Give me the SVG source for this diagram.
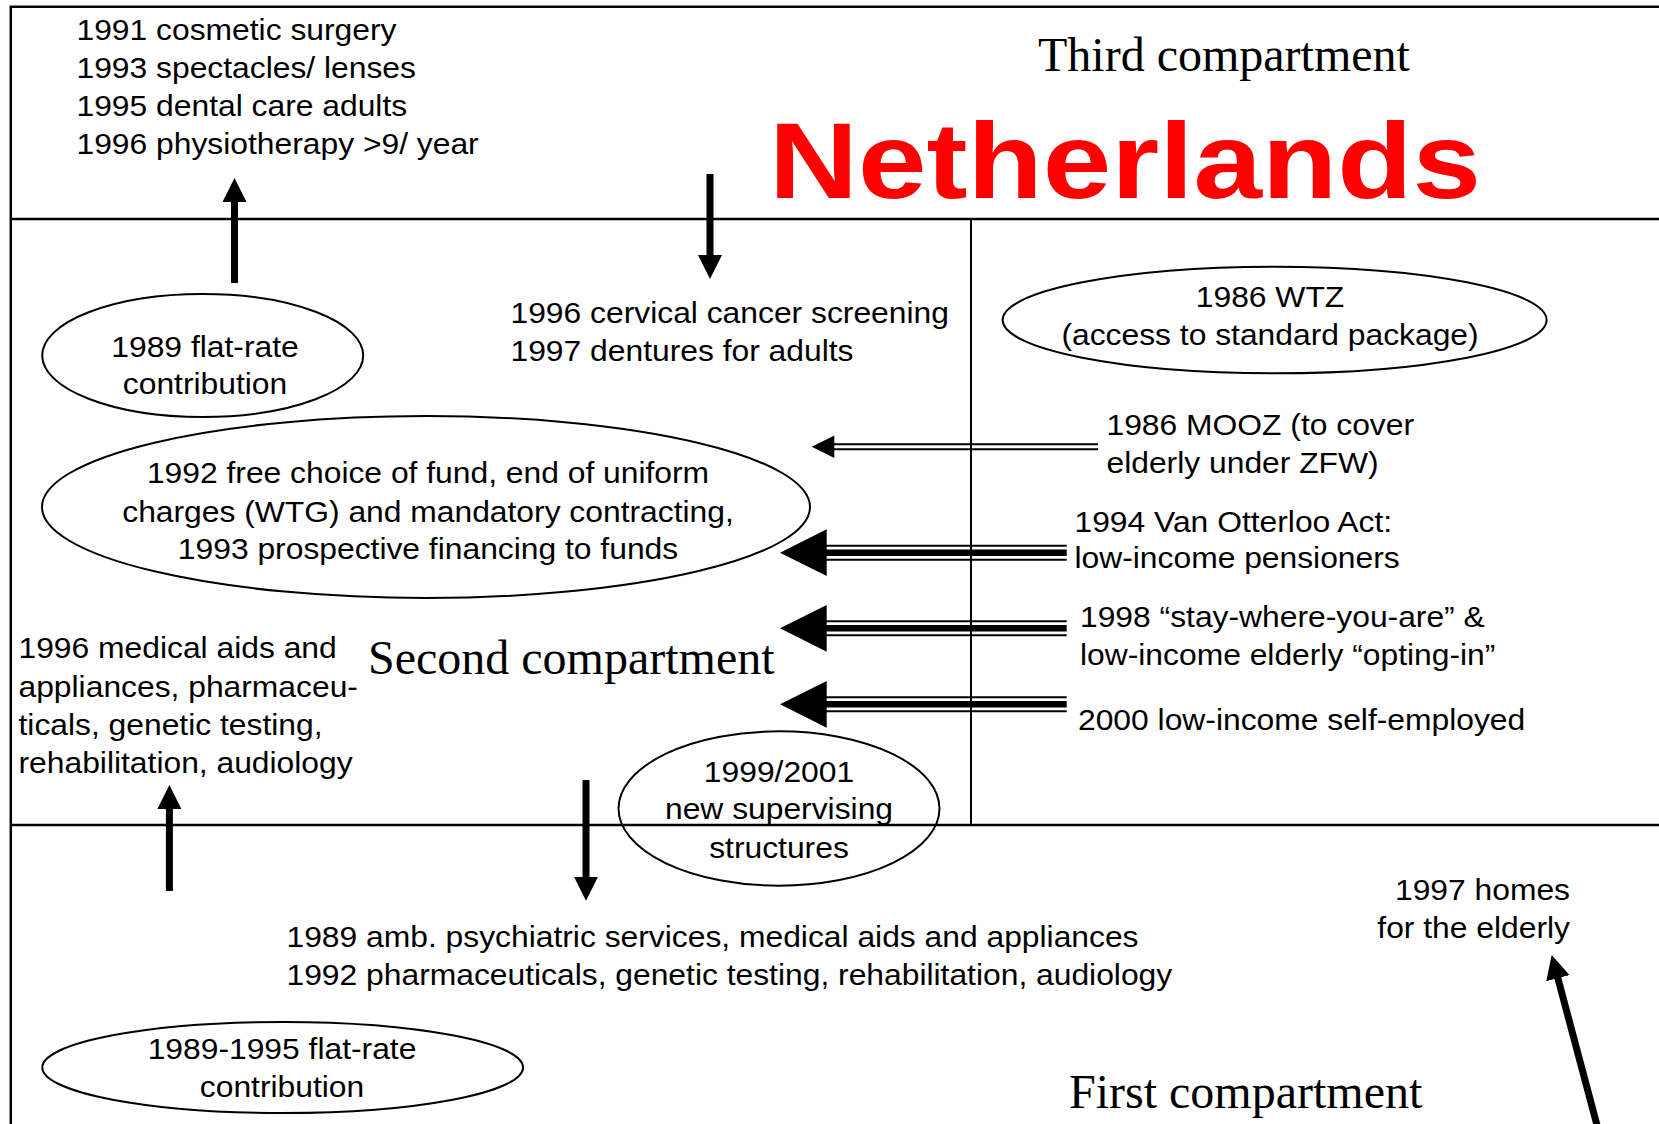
<svg xmlns="http://www.w3.org/2000/svg" xmlns:xlink="http://www.w3.org/1999/xlink" width="1659" height="1124" viewBox="0 0 1659 1124">
<style>
.s{font-family:"Liberation Sans",Arial,Helvetica,sans-serif;font-size:28.8px;fill:#000}
.c{text-anchor:middle}
.r{font-family:"Liberation Serif","Times New Roman",serif;font-size:48px;fill:#000}
.n{font-family:"Liberation Sans",Arial,Helvetica,sans-serif;font-weight:bold;font-size:108px;fill:#FF0000}
.e{fill:none;stroke:#000;stroke-width:2}
.fr{fill:none;stroke:#000;stroke-width:2.5}
.sh{fill:none;stroke:#000;stroke-width:7}
.th{fill:none;stroke:#000;stroke-width:2}
.tk{fill:none;stroke:#000;stroke-width:6.5}
</style>
<defs>
<marker id="ah" markerUnits="userSpaceOnUse" markerWidth="24" markerHeight="24" viewBox="0 0 24 24" refX="1" refY="12" orient="auto">
<path d="M0,0 L24,12 L0,24 Z" fill="#000"/>
</marker>
<path id="hl" d="M0,0 L46.7,-23.4 L46.7,23.4 Z" fill="#000"/>
<g id="tri">
<line class="th" x1="825" y1="-7" x2="1066.7" y2="-7"/>
<line class="tk" x1="825" y1="0" x2="1066.7" y2="0"/>
<line class="th" x1="825" y1="7" x2="1066.7" y2="7"/>
</g>
</defs>
<rect width="1659" height="1124" fill="#fff"/>

<g id="frame">
<path class="fr" d="M1670,6.7 H10.8 V1135"/>
<line class="fr" x1="10.8" y1="219" x2="1670" y2="219"/>
<line class="fr" x1="10.8" y1="825" x2="1670" y2="825"/>
<line class="th" x1="971" y1="219" x2="971" y2="825"/>
</g>

<g id="connectors">
<line class="sh" x1="234.5" y1="283" x2="234.5" y2="201" marker-end="url(#ah)"/>
<line class="sh" x1="710" y1="174" x2="710" y2="256" marker-end="url(#ah)"/>
<line class="sh" x1="169.4" y1="891" x2="169.4" y2="808" marker-end="url(#ah)"/>
<line class="sh" x1="586" y1="780" x2="586" y2="877.7" marker-end="url(#ah)"/>
<line class="sh" x1="1598.3" y1="1130" x2="1557.6" y2="977.2" marker-end="url(#ah)"/>
<g id="mooz-arrow">
<line class="th" x1="833" y1="444.3" x2="1098" y2="444.3"/>
<line class="th" x1="833" y1="449.3" x2="1098" y2="449.3"/>
<path d="M811.7,446.8 L834.3,435.5 L834.3,458.1 Z" fill="#000"/>
</g>
<g id="otterloo-arrow"><use xlink:href="#tri" href="#tri" y="552.7"/><use xlink:href="#hl" href="#hl" x="780" y="552.7"/></g>
<g id="stay-arrow"><use xlink:href="#tri" href="#tri" y="628.2"/><use xlink:href="#hl" href="#hl" x="780" y="628.3"/></g>
<g id="selfemp-arrow"><use xlink:href="#tri" href="#tri" y="704.2"/><use xlink:href="#hl" href="#hl" x="780" y="704.3"/></g>
</g>

<g id="third-list">
<text class="s" transform="matrix(1.105 0 0 1 76.5 39.5)"><tspan x="0" y="0">1991 cosmetic surgery</tspan><tspan x="0" y="38.2">1993 spectacles/ lenses</tspan><tspan x="0" y="76.4">1995 dental care adults</tspan><tspan x="0" y="114.8">1996 physiotherapy &gt;9/ year</tspan></text>
</g>
<g id="third-title"><text class="r" x="1038" y="71">Third compartment</text></g>
<g id="netherlands"><text class="n" x="769" y="198.3" textLength="712" lengthAdjust="spacingAndGlyphs">Netherlands</text></g>

<g id="cervical">
<text class="s" transform="matrix(1.105 0 0 1 510.5 322.5)"><tspan x="0" y="0">1996 cervical cancer screening</tspan><tspan x="0" y="38.5">1997 dentures for adults</tspan></text>
</g>
<g id="flatrate1989">
<ellipse class="e" cx="202.7" cy="355.5" rx="160.5" ry="61.5"/>
<text class="s c" transform="matrix(1.105 0 0 1 205 356.5)"><tspan x="0" y="0">1989 flat-rate</tspan><tspan x="0" y="38">contribution</tspan></text>
</g>
<g id="wtz">
<ellipse class="e" cx="1274.6" cy="320" rx="272" ry="53.3"/>
<text class="s c" transform="matrix(1.105 0 0 1 1270 306.7)"><tspan x="0" y="0">1986 WTZ</tspan><tspan x="0" y="38.3">(access to standard package)</tspan></text>
</g>
<g id="freechoice">
<ellipse class="e" cx="426" cy="507" rx="384" ry="91"/>
<text class="s c" transform="matrix(1.105 0 0 1 428 483.3)"><tspan x="0" y="0">1992 free choice of fund, end of uniform</tspan><tspan x="0" y="38.3">charges (WTG) and mandatory contracting,</tspan><tspan x="0" y="76">1993 prospective financing to funds</tspan></text>
</g>
<g id="mooz">
<text class="s" transform="matrix(1.105 0 0 1 1106.5 435)"><tspan x="0" y="0">1986 MOOZ (to cover</tspan><tspan x="0" y="37.7">elderly under ZFW)</tspan></text>
</g>
<g id="otterloo">
<text class="s" transform="matrix(1.105 0 0 1 1074.5 531.7)"><tspan x="0" y="0">1994 Van Otterloo Act:</tspan><tspan x="0" y="36.3">low-income pensioners</tspan></text>
</g>
<g id="stay">
<text class="s" transform="matrix(1.105 0 0 1 1080 626.7)"><tspan x="0" y="0">1998 “stay-where-you-are” &amp;</tspan><tspan x="0" y="38.3">low-income elderly “opting-in”</tspan></text>
</g>
<g id="selfemployed">
<text class="s" transform="matrix(1.105 0 0 1 1078 730)">2000 low-income self-employed</text>
</g>
<g id="medicalaids1996">
<text class="s" transform="matrix(1.105 0 0 1 18.5 658)"><tspan x="0" y="0">1996 medical aids and</tspan><tspan x="0" y="39">appliances, pharmaceu-</tspan><tspan x="0" y="77">ticals, genetic testing,</tspan><tspan x="0" y="115.3">rehabilitation, audiology</tspan></text>
</g>
<g id="second-title"><text class="r" x="368" y="674">Second compartment</text></g>
<g id="supervising">
<ellipse class="e" cx="779" cy="808.5" rx="160.5" ry="77.2"/>
<text class="s c" transform="matrix(1.105 0 0 1 779 781.7)"><tspan x="0" y="0">1999/2001</tspan><tspan x="0" y="37">new supervising</tspan><tspan x="0" y="76.3">structures</tspan></text>
</g>
<g id="psychiatric">
<text class="s" transform="matrix(1.105 0 0 1 286.5 946.7)"><tspan x="0" y="0">1989 amb. psychiatric services, medical aids and appliances</tspan><tspan x="0" y="38.3">1992 pharmaceuticals, genetic testing, rehabilitation, audiology</tspan></text>
</g>
<g id="flatrate8995">
<ellipse class="e" cx="282.7" cy="1067.5" rx="240.4" ry="45.5"/>
<text class="s c" transform="matrix(1.105 0 0 1 282 1059.3)"><tspan x="0" y="0">1989-1995 flat-rate</tspan><tspan x="0" y="37.4">contribution</tspan></text>
</g>
<g id="homes">
<text class="s" text-anchor="end" transform="matrix(1.105 0 0 1 1570 900)"><tspan x="0" y="0">1997 homes</tspan><tspan x="0" y="38.3">for the elderly</tspan></text>
</g>
<g id="first-title"><text class="r" x="1069" y="1107.7">First compartment</text></g>
</svg>
